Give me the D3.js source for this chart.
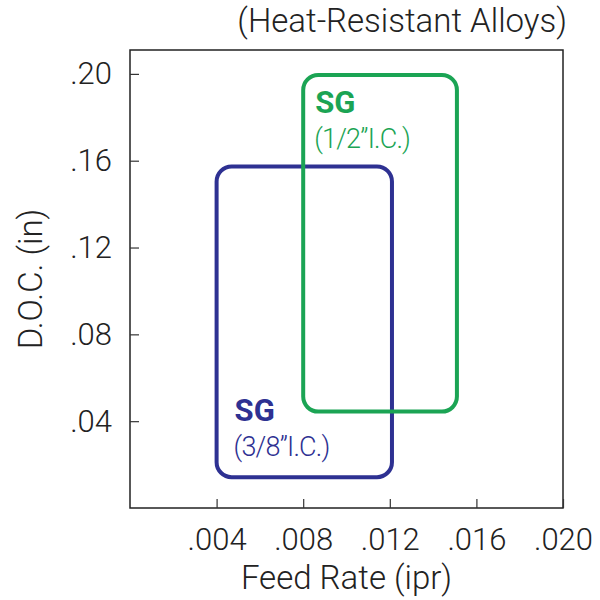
<!DOCTYPE html>
<html>
<head>
<meta charset="utf-8">
<script src="https://cdn.jsdelivr.net/npm/d3@7"></script>
<style>
  body { margin: 0; background: #fff; }
  text { font-family: Roboto, "Liberation Sans", sans-serif; }
</style>
</head>
<body>
<svg width="600" height="600"></svg>
<script>
// data
const xTicks = [0.004, 0.008, 0.012, 0.016, 0.020];
const yTicks = [0.04, 0.08, 0.12, 0.16, 0.20];
const boxNames = ["SG", "SG"];
const boxSizes = ['(3/8\u201DI.C.)', '(1/2\u201DI.C.)'];
const feedMin = [0.004, 0.008];
const feedMax = [0.0121, 0.0151];
const docMin = [0.0142, 0.0444];
const docMax = [0.1573, 0.1995];
const boxColors = ["#2e3192", "#1ba454"];

let svg = d3.select("svg"),
  width = +svg.attr("width"),
  height = +svg.attr("height");

const plot = { left: 130, right: 563, top: 50, bottom: 508 };

const x = d3.scaleLinear().domain([0, 0.020]).range([plot.left, plot.right]);
const y = d3.scaleLinear().domain([0, 0.2110]).range([plot.bottom, plot.top]);

const fmt = (d) => d3.format(".3f")(d).replace(/^0/, "");
const fmtY = (d) => d3.format(".2f")(d).replace(/^0/, "");

// frame
svg.append("rect")
  .attr("x", plot.left)
  .attr("y", plot.top)
  .attr("width", plot.right - plot.left)
  .attr("height", plot.bottom - plot.top)
  .attr("fill", "none")
  .attr("stroke", "#222")
  .attr("stroke-width", 1.5);

// x axis (ticks inward)
const xAxis = svg.append("g")
  .attr("transform", "translate(0," + plot.bottom + ")")
  .call(d3.axisBottom(x).tickValues(xTicks).tickSizeInner(-9).tickSizeOuter(0).tickPadding(20).tickFormat(fmt));
xAxis.select(".domain").remove();
xAxis.selectAll("line").attr("stroke", "#333").attr("stroke-width", 1.2);
xAxis.selectAll("text")
  .attr("font-size", 31)
  .attr("font-weight", 300)
  .attr("fill", "#222")
  .attr("font-family", 'Roboto, "Liberation Sans", sans-serif');

// y axis (ticks inward)
const yAxis = svg.append("g")
  .attr("transform", "translate(" + plot.left + ",0)")
  .call(d3.axisLeft(y).tickValues(yTicks).tickSizeInner(-9).tickSizeOuter(0).tickPadding(18).tickFormat(fmtY));
yAxis.select(".domain").remove();
yAxis.selectAll("line").attr("stroke", "#333").attr("stroke-width", 1.2);
yAxis.selectAll("text")
  .attr("font-size", 31)
  .attr("font-weight", 300)
  .attr("fill", "#222")
  .attr("font-family", 'Roboto, "Liberation Sans", sans-serif');

// titles
svg.append("text")
  .attr("x", 567)
  .attr("y", 32)
  .attr("text-anchor", "end")
  .attr("font-size", 33)
  .attr("font-weight", 300)
  .attr("fill", "#222")
  .text("(Heat-Resistant Alloys)");

svg.append("text")
  .attr("x", (plot.left + plot.right) / 2)
  .attr("y", 589)
  .attr("text-anchor", "middle")
  .attr("font-size", 33)
  .attr("font-weight", 300)
  .attr("fill", "#222")
  .text("Feed Rate (ipr)");

svg.append("text")
  .attr("transform", "translate(42," + (plot.top + plot.bottom) / 2 + ") rotate(-90)")
  .attr("text-anchor", "middle")
  .attr("font-size", 33)
  .attr("font-weight", 300)
  .attr("fill", "#222")
  .text("D.O.C. (in)");

// boxes
const boxes = boxNames.map((n, i) => ({
  name: n, size: boxSizes[i], x0: feedMin[i], x1: feedMax[i],
  y0: docMin[i], y1: docMax[i], color: boxColors[i]
}));

svg.append("g")
  .selectAll("rect")
  .data(boxes)
  .enter()
  .append("rect")
  .attr("x", (d) => x(d.x0))
  .attr("y", (d) => y(d.y1))
  .attr("width", (d) => x(d.x1) - x(d.x0))
  .attr("height", (d) => y(d.y0) - y(d.y1))
  .attr("rx", 15)
  .attr("fill", "none")
  .attr("stroke", (d) => d.color)
  .attr("stroke-width", 4);

// labels: blue one sits low in its box, green one high
boxes.forEach((d, i) => {
  let lx = i === 0 ? x(d.x0) + 18 : x(d.x0) + 12;
  let ly = i === 0 ? y(d.y0) - 56 : y(d.y1) + 38;
  svg.append("text")
    .attr("x", lx)
    .attr("y", ly)
    .attr("font-size", 31)
    .attr("font-weight", 700)
    .attr("fill", d.color)
    .text(d.name);
  svg.append("text")
    .attr("x", lx - 1)
    .attr("y", ly + 35)
    .attr("font-size", 27)
    .attr("font-weight", 300)
    .attr("letter-spacing", -0.8)
    .attr("fill", d.color)
    .text(d.size);
});
</script>
</body>
</html>
